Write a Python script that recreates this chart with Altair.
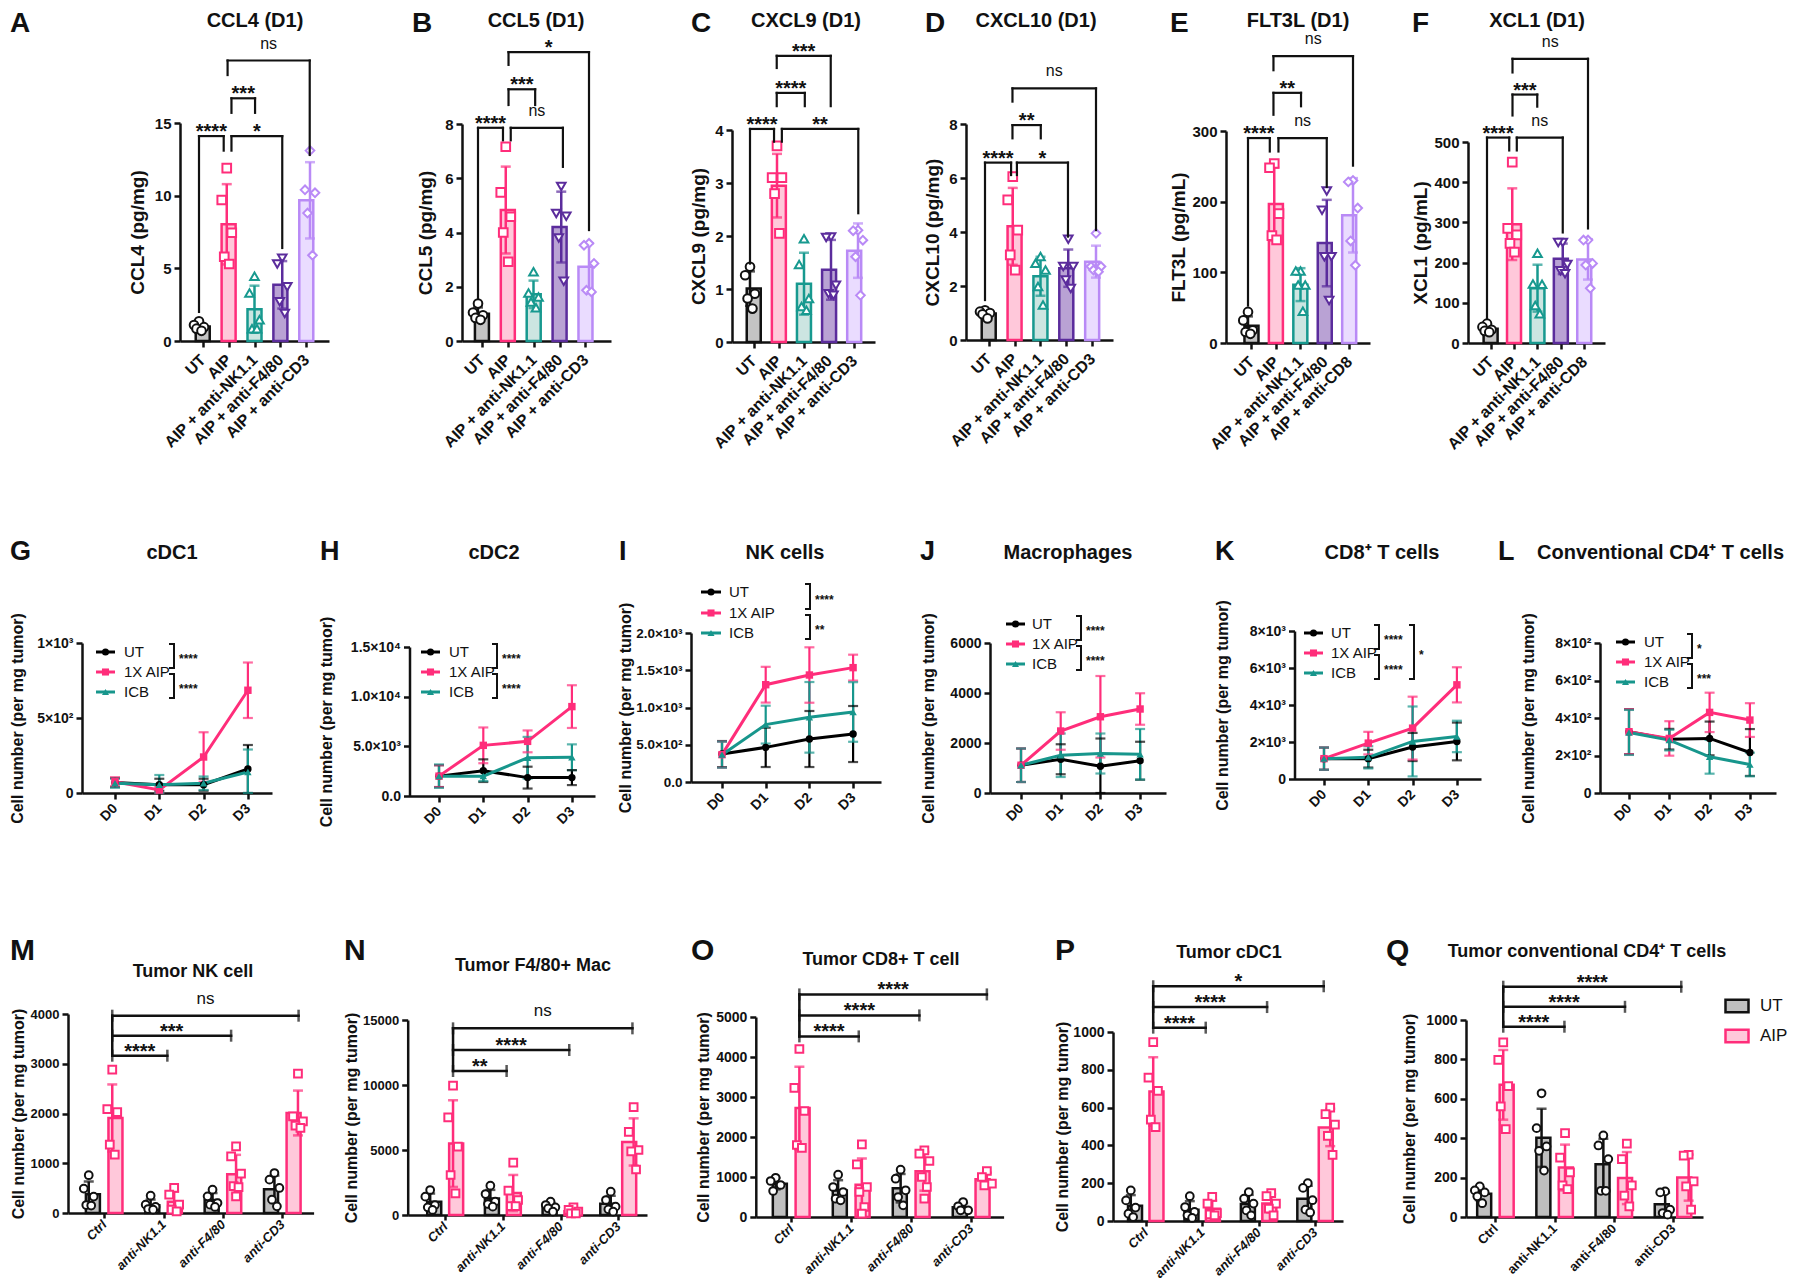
import json
import altair as alt
import pandas as pd

FONT = "Liberation Sans"
INK = "#111111"
OFF = 8
W, H = 1784, 1272

# ---------------- Panels A-F : cytokines (D1), individual mice ----------------
CYTO_GROUPS = ["UT", "AIP", "AIP + anti-NK1.1", "AIP + anti-F4/80", "AIP + anti-CD3"]
CYTO_GROUPS_CD8 = ["UT", "AIP", "AIP + anti-NK1.1", "AIP + anti-F4/80", "AIP + anti-CD8"]
CYTO_FILL = ["#c4c4c4", "#ffc8da", "#cce5e1", "#b9a2d4", "#eadcff"]
CYTO_STROKE = ["#111111", "#ff2d7a", "#17998f", "#5b2c9c", "#b98af6"]
CYTO_SHAPE = ["circle", "square", "triangle-up", "triangle-down", "diamond"]

CCL4 = [[1.35, 1.1, 0.95, 0.85, 0.7], [11.9, 9.7, 7.45, 5.8, 5.3], [4.46, 3.3, 1.47, 0.85, 0.85],
        [5.7, 5.3, 3.73, 2.7, 1.9], [13.1, 10.4, 10.2, 8.8, 5.9]]
CCL5 = [[1.38, 1.05, 0.95, 0.85, 0.78], [7.16, 5.48, 4.58, 4.0, 2.92], [2.55, 1.77, 1.62, 1.44, 1.23],
        [5.7, 4.7, 4.6, 3.8, 2.2], [3.6, 3.53, 2.86, 1.87, 1.81]]
CXCL9 = [[1.42, 1.26, 0.91, 0.82, 0.63], [3.7, 3.1, 3.1, 2.8, 2.05], [1.95, 1.46, 0.82, 0.67, 0.6],
         [1.98, 1.97, 1.07, 0.91, 0.88], [2.11, 2.1, 1.92, 1.61, 0.88]]
CXCL10 = [[1.1, 1.05, 1.0, 0.95, 0.8], [6.05, 5.19, 4.07, 3.15, 2.59], [3.09, 2.84, 2.59, 1.98, 1.3],
          [3.73, 2.72, 2.72, 2.22, 1.91], [3.95, 2.72, 2.72, 2.59, 2.53]]
FLT3L = [[44, 32, 18, 15.6, 13], [254, 248, 183, 152, 146], [102, 102, 82, 82, 45],
         [215, 188, 122, 122, 60], [230, 228, 191, 144.5, 110]]
XCL1 = [[48, 40, 33, 30, 27], [450, 285, 269, 248, 226], [223, 147, 146, 93, 73],
        [250, 250, 195, 180, 172], [256, 256, 198, 194, 136]]

# significance brackets: (left x, right x, level, left leg end, right leg end, label)
BR_CCL4 = [(0, 0.89, 14.1, 2.0, 13.1, "****"), (1.17, 3.0, 14.1, 13.1, 6.4, "*"),
           (1.17, 2.02, 16.7, 15.7, 15.7, "***"), (1.03, 3.99, 19.3, 18.3, 12.8, "ns")]
BR_CCL5 = [(0, 0.9, 7.86, 1.56, 7.4, "****"), (1.18, 3.06, 7.86, 7.4, 6.42, "ns"),
           (1.1, 2.06, 9.28, 8.7, 8.7, "***"), (1.1, 4.0, 10.65, 10.18, 4.09, "*")]
BR_CXCL9 = [(0, 0.89, 4.02, 1.48, 3.78, "****"), (1.18, 4.01, 4.02, 3.78, 2.43, "**"),
            (0.99, 2.03, 4.7, 4.45, 4.45, "****"), (0.99, 2.99, 5.4, 5.17, 4.45, "***")]
BR_CXCL10 = [(0, 0.94, 6.57, 1.48, 6.11, "****"), (1.15, 2.99, 6.57, 6.11, 3.83, "*"),
             (0.99, 2.01, 7.96, 7.47, 7.47, "**"), (0.99, 4.0, 9.32, 8.83, 4.07, "ns")]
BR_FLT3L = [(0, 0.83, 290, 53, 271, "****"), (1.16, 3.0, 290, 271, 221, "ns"),
            (0.97, 2.02, 354, 323, 335, "**"), (0.97, 4.0, 406, 386, 251, "ns")]
BR_XCL1 = [(0, 0.88, 511, 62, 479, "****"), (1.18, 3.0, 511, 479, 275, "ns"),
           (1.01, 1.99, 618, 566, 588, "***"), (1.01, 4.0, 707, 673, 285, "ns")]

# ---------------- Panels G-L : kinetics (mean, SD) ----------------
DAYS = ["D0", "D1", "D2", "D3"]
SERIES2 = ["UT", "1X AIP", "ICB"]
S2_COLOR = ["#000000", "#ff2d7a", "#17968c"]
S2_SHAPE = ["circle", "square", "triangle-up"]

CDC1_MEAN = {"UT": [70, 55, 55, 160], "1X AIP": [75, 20, 240, 685], "ICB": [65, 55, 65, 140]}
CDC1_SD = {"UT": [30, 40, 40, 160], "1X AIP": [30, 20, 165, 185], "ICB": [30, 65, 45, 150]}
CDC2_MEAN = {"UT": [2000, 2550, 1850, 1850], "1X AIP": [2000, 5100, 5500, 9000], "ICB": [2000, 2000, 3850, 3900]}
CDC2_SD = {"UT": [1100, 1140, 1100, 750], "1X AIP": [1100, 1800, 1100, 2150], "ICB": [1180, 500, 2100, 1300]}
NK_MEAN = {"UT": [375, 465, 577, 644], "1X AIP": [367, 1306, 1436, 1535], "ICB": [367, 770, 868, 940]}
NK_SD = {"UT": [175, 264, 376, 376], "1X AIP": [175, 240, 372, 174], "ICB": [175, 254, 474, 400]}
MAC_MEAN = {"UT": [1110, 1350, 1070, 1290], "1X AIP": [1110, 2480, 3050, 3360], "ICB": [1110, 1510, 1580, 1550]}
MAC_SD = {"UT": [670, 600, 1110, 760], "1X AIP": [670, 750, 1630, 630], "ICB": [670, 870, 800, 1010]}
CD8_MEAN = {"UT": [1100, 1100, 1730, 2030], "1X AIP": [1100, 1940, 2750, 5090], "ICB": [1100, 1170, 2030, 2300]}
CD8_SD = {"UT": [600, 480, 760, 1020], "1X AIP": [600, 610, 1700, 950], "ICB": [600, 600, 1890, 850]}
CD4_MEAN = {"UT": [327, 287, 291, 216], "1X AIP": [327, 291, 430, 389], "ICB": [323, 282, 193, 152]}
CD4_SD = {"UT": [120, 55, 90, 125], "1X AIP": [120, 92, 105, 90], "ICB": [120, 55, 90, 63]}

# ---------------- Panels M-Q : depletion, tumor cells (individual mice) ----------------
TUMOR_GROUPS = ["Ctrl", "anti-NK1.1", "anti-F4/80", "anti-CD3"]
SERIES3 = ["UT", "AIP"]
S3_FILL = ["#bfbfbf", "#ffc8da"]
S3_STROKE = ["#111111", "#ff2d7a"]
S3_SHAPE = ["circle", "square"]

NKT_UT = [[760, 490, 330, 160, 150], [348, 168, 121, 80, 67], [469, 335, 201, 168, 121], [804, 670, 503, 268, 134]]
NKT_AIP = [[2881, 2090, 2030, 1373, 1172], [503, 369, 168, 67, 34], [1340, 1140, 790, 540, 520, 335],
           [2800, 1943, 1843, 1756, 1709]]
MACT_UT = [[1923, 1410, 769, 590, 385], [2256, 1615, 1026, 846, 641], [1026, 769, 590, 513, 256],
           [1795, 1154, 641, 436, 256]]
MACT_AIP = [[9949, 7513, 5256, 3077, 1667], [4026, 1872, 1154, 692, 692], [590, 385, 256, 128, 128],
            [8300, 6400, 5000, 4900, 3500]]
CD8T_UT = [[980, 900, 800, 650], [1058, 750, 625, 458, 417], [1183, 958, 667, 500, 292], [375, 267, 167, 167]]
CD8T_AIP = [[4200, 3230, 2650, 1800, 1730], [1817, 1317, 750, 625, 250, 83], [1667, 1583, 1400, 1000, 750, 458],
            [1150, 1000, 833, 792]]
CDC1T_UT = [[162, 109, 71, 39, 21], [131, 74, 48, 30, 16], [153, 118, 92, 56, 30], [200, 175, 110, 60, 45]]
CDC1T_AIP = [[947, 758, 688, 536, 497], [127, 92, 42, 35, 30], [148, 131, 92, 65, 30], [600, 565, 510, 450, 350]]
CD4T_UT = [[155, 135, 125, 105, 70], [628, 451, 358, 336, 236], [414, 363, 294, 133, 133], [130, 125, 37, 20, 12]]
CD4T_AIP = [[887, 797, 664, 561, 446], [426, 302, 226, 160, 142], [372, 294, 160, 108, 54], [316, 311, 181, 155, 37]]

# brackets from Ctrl AIP: (right x, level, label)
BR_NKT = [(1.08, 3162, "****"), (2.11, 3564, "***"), (3.2, 3966, "ns")]
BR_MACT = [(1.08, 11077, "**"), (2.12, 12692, "****"), (3.17, 14358, "ns")]
BR_CD8T = [(1.14, 4515, "****"), (2.11, 5040, "****"), (3.19, 5565, "****")]
BR_CDC1T = [(1.08, 1023, "****"), (2.12, 1132, "****"), (3.08, 1242, "*")]
BR_CD4T = [(1.18, 966, "****"), (2.16, 1067, "****"), (3.07, 1169, "****")]

# ---------------- layout (reference pixels) ----------------
GEO = {
    "A": dict(ax=180, end=329, c0=199, step=27.75, zero=341, top=123, tmax=15),
    "B": dict(ax=462, end=611, c0=478, step=27.75, zero=341, top=124, tmax=8),
    "C": dict(ax=732, end=875, c0=750, step=27.0, zero=342, top=130, tmax=4),
    "D": dict(ax=966, end=1113, c0=985, step=27.75, zero=340, top=124, tmax=8),
    "E": dict(ax=1226, end=1370, c0=1248, step=26.25, zero=343, top=131, tmax=300),
    "F": dict(ax=1468, end=1605, c0=1487, step=25.25, zero=343, top=142, tmax=500),
    "G": dict(ax=82, end=272, c0=115, step=44.3, zero=793, top=643, tmax=1000),
    "H": dict(ax=409.5, end=595, c0=439, step=44.3, zero=796, top=647, tmax=15000),
    "I": dict(ax=691, end=881, c0=722, step=43.7, zero=782, top=633, tmax=2000),
    "J": dict(ax=990, end=1166, c0=1021, step=39.7, zero=793, top=643, tmax=6000),
    "K": dict(ax=1294.5, end=1481, c0=1324, step=44.3, zero=779, top=631, tmax=8000),
    "L": dict(ax=1600, end=1776, c0=1629, step=40.3, zero=793, top=643, tmax=800),
    "M": dict(ax=68, end=313.6, c0=100.5, step=61.9, zero=1213, top=1014, tmax=4000),
    "N": dict(ax=407.7, end=647, c0=441.6, step=60.2, zero=1215, top=1020, tmax=15000),
    "O": dict(ax=755.8, end=1003.6, c0=787.5, step=62.5, zero=1217, top=1017, tmax=5000),
    "P": dict(ax=1113, end=1343, c0=1142, step=59, zero=1221, top=1032, tmax=1000),
    "Q": dict(ax=1466, end=1703, c0=1491.5, step=61.8, zero=1217, top=1020, tmax=1000),
}

JIT5 = [0.0, -0.18, 0.18, -0.09, 0.09, 0.0]
JIT3 = [0.0, -0.08, 0.08, -0.04, 0.04, 0.0]
S3_OFF = 0.19


def xsc(g):
    return alt.Scale(domain=[(g["ax"] - g["c0"]) / g["step"], (g["end"] - g["c0"]) / g["step"]],
                     range=[g["ax"] - OFF, g["end"] - OFF], nice=False, zero=False)


def ysc(g):
    return alt.Scale(domain=[0, g["tmax"]], range=[g["zero"] - OFF, g["top"] - OFF], nice=False, zero=False)


def dxu(g, px):
    return (px - g["c0"]) / g["step"]


def dyu(g, py):
    return (g["zero"] - py) / (g["zero"] - g["top"]) * g["tmax"]


def lab_expr(values, labels):
    return "%s[indexof(%s, datum.value)]" % (json.dumps(labels, ensure_ascii=False), json.dumps(values))


AXC = dict(grid=False, domainColor=INK, tickColor=INK, labelColor=INK, titleColor=INK,
           labelFont=FONT, titleFont=FONT, labelOverlap=False, labelFlush=False, labelBound=False)


def y_axis(g, title, values, labels, lab_fs, title_fs, ext):
    return alt.Axis(orient="left", offset=-(g["ax"] - OFF), values=values,
                    labelExpr=lab_expr(values, labels), title=title,
                    domainWidth=2.5, tickWidth=2.5, tickSize=6, labelPadding=3,
                    labelFontSize=lab_fs, labelFontWeight="bold",
                    titleFontSize=title_fs, titleFontWeight="bold",
                    minExtent=ext, maxExtent=ext, titlePadding=4, **AXC)


def x_axis(g, values, labels, lab_fs, italic=False, pad=10, tick=6):
    return alt.Axis(orient="bottom", offset=(g["zero"] - OFF) - H, values=values,
                    labelExpr=lab_expr(values, labels), title=None,
                    domainWidth=2.5, tickWidth=2.5, tickSize=tick, labelPadding=pad,
                    labelAngle=-45, labelAlign="right", labelBaseline="middle",
                    labelFontSize=lab_fs, labelFontWeight="bold",
                    labelFontStyle="italic" if italic else "normal", **AXC)


def text_layer(rows, xs, ys, **mk):
    df = pd.DataFrame(rows, columns=["x", "y", "t"])
    return alt.Chart(df).mark_text(font=FONT, color=INK, **mk).encode(
        x=alt.X("x:Q", scale=xs, axis=None), y=alt.Y("y:Q", scale=ys, axis=None), text="t:N")


def header(g, xs, ys, title, tpos, tsize, letter, lpos, lsize, talign="center"):
    return [
        text_layer([dict(x=dxu(g, tpos[0]), y=dyu(g, tpos[1]), t=title)], xs, ys,
                   fontSize=tsize, fontWeight="bold", align=talign, baseline="middle"),
        text_layer([dict(x=dxu(g, lpos[0]), y=dyu(g, lpos[1]), t=letter)], xs, ys,
                   fontSize=lsize, fontWeight="bold", align="left", baseline="middle"),
    ]


def rule_layer(rows, xs, ys, width=2.2):
    df = pd.DataFrame(rows, columns=["x", "x2", "y", "y2"])
    return alt.Chart(df).mark_rule(color=INK, strokeWidth=width, strokeCap="square").encode(
        x=alt.X("x:Q", scale=xs, axis=None), x2="x2:Q", y=alt.Y("y:Q", scale=ys, axis=None), y2="y2:Q")


def sig_labels(rows, xs, ys, star_fs=20, ns_fs=16):
    out = []
    stars = [r for r in rows if r["t"] != "ns"]
    ns = [r for r in rows if r["t"] == "ns"]
    if stars:
        out.append(text_layer(stars, xs, ys, fontSize=star_fs, fontWeight="bold", align="center",
                              baseline="alphabetic", dy=2))
    if ns:
        out.append(text_layer(ns, xs, ys, fontSize=ns_fs, align="center", baseline="alphabetic", dy=-12))
    return out


def summarize(pts, keys):
    s = pts.groupby(keys, sort=False)["value"].agg(["mean", "std"]).reset_index()
    s["lo"] = (s["mean"] - s["std"]).clip(lower=0)
    s["hi"] = s["mean"] + s["std"]
    caps = pd.concat([s.assign(cap=s["lo"]), s.assign(cap=s["hi"])], ignore_index=True)
    return s, caps


def cyto_panel(p):
    g = GEO[p["letter"]]
    xs, ys = xsc(g), ysc(g)
    groups = p["groups"]
    rows = []
    for gi, vals in enumerate(p["values"]):
        for k, v in enumerate(vals):
            rows.append({"group": groups[gi], "xi": gi, "xj": gi + JIT5[k], "value": v})
    pts = pd.DataFrame(rows)
    summ, caps = summarize(pts, ["group", "xi"])
    fill_s = alt.Scale(domain=groups, range=CYTO_FILL)
    strk_s = alt.Scale(domain=groups, range=CYTO_STROKE)
    shp_s = alt.Scale(domain=groups, range=CYTO_SHAPE)
    yt = p["yticks"]
    bars = alt.Chart(summ).mark_bar(orient="vertical", size=14, strokeWidth=2.5).encode(
        x=alt.X("xi:Q", scale=xs, axis=x_axis(g, list(range(5)), groups, 16)),
        y=alt.Y("mean:Q", scale=ys, axis=y_axis(g, p["ytitle"], yt, [str(v) for v in yt], 15, 19, p["ext"])),
        fill=alt.Fill("group:N", scale=fill_s, legend=None),
        stroke=alt.Stroke("group:N", scale=strk_s, legend=None))
    err = alt.Chart(summ).mark_rule(strokeWidth=2.5).encode(
        x=alt.X("xi:Q", scale=xs, axis=None), y=alt.Y("lo:Q", scale=ys, axis=None), y2="hi:Q",
        color=alt.Color("group:N", scale=strk_s, legend=None))
    capl = alt.Chart(caps).mark_tick(orient="horizontal", size=10, thickness=2.5).encode(
        x=alt.X("xi:Q", scale=xs, axis=None), y=alt.Y("cap:Q", scale=ys, axis=None),
        color=alt.Color("group:N", scale=strk_s, legend=None))
    dots = alt.Chart(pts).mark_point(filled=True, fill="white", opacity=1, strokeWidth=2, size=75).encode(
        x=alt.X("xj:Q", scale=xs, axis=None), y=alt.Y("value:Q", scale=ys, axis=None),
        shape=alt.Shape("group:N", scale=shp_s, legend=None),
        stroke=alt.Stroke("group:N", scale=strk_s, legend=None))
    segs, labs = [], []
    for xa, xb, top, ya, yb, t in p["br"]:
        segs += [dict(x=xa, x2=xa, y=ya, y2=top), dict(x=xa, x2=xb, y=top, y2=top),
                 dict(x=xb, x2=xb, y=top, y2=yb)]
        labs.append(dict(x=(xa + xb) / 2, y=top, t=t))
    layers = [bars, err, capl, dots, rule_layer(segs, xs, ys)] + sig_labels(labs, xs, ys)
    layers += header(g, xs, ys, p["title"], p["tpos"], 20, p["letter"], p["lpos"], 28)
    return layers


def line_panel(p):
    g = GEO[p["letter"]]
    xs, ys = xsc(g), ysc(g)
    rows = []
    for s in SERIES2:
        for d in range(4):
            m, sd = p["mean"][s][d], p["sd"][s][d]
            rows.append({"series": s, "day": d, "mean": m, "lo": max(m - sd, 0), "hi": m + sd})
    df = pd.DataFrame(rows)
    caps = pd.concat([df.assign(cap=df["lo"]), df.assign(cap=df["hi"])], ignore_index=True)
    col_s = alt.Scale(domain=SERIES2, range=S2_COLOR)
    shp_s = alt.Scale(domain=SERIES2, range=S2_SHAPE)
    err = alt.Chart(df).mark_rule(strokeWidth=2.2).encode(
        x=alt.X("day:Q", scale=xs, axis=x_axis(g, [0, 1, 2, 3], DAYS, 14, pad=7)),
        y=alt.Y("lo:Q", scale=ys, axis=y_axis(g, "Cell number (per mg tumor)", p["yticks"], p["ylabels"],
                                             p.get("yfs", 14), 16, p["ext"])),
        y2="hi:Q", color=alt.Color("series:N", scale=col_s, legend=None))
    capl = alt.Chart(caps).mark_tick(orient="horizontal", size=10, thickness=2.2).encode(
        x=alt.X("day:Q", scale=xs, axis=None), y=alt.Y("cap:Q", scale=ys, axis=None),
        color=alt.Color("series:N", scale=col_s, legend=None))
    line = alt.Chart(df).mark_line(strokeWidth=3).encode(
        x=alt.X("day:Q", scale=xs, axis=None), y=alt.Y("mean:Q", scale=ys, axis=None),
        color=alt.Color("series:N", scale=col_s, legend=None))
    dots = alt.Chart(df).mark_point(filled=True, opacity=1, size=55).encode(
        x=alt.X("day:Q", scale=xs, axis=None), y=alt.Y("mean:Q", scale=ys, axis=None),
        color=alt.Color("series:N", scale=col_s, legend=None),
        shape=alt.Shape("series:N", scale=shp_s, legend=None))
    # in-plot key
    L = p["key"]
    key = pd.DataFrame({"series": SERIES2,
                        "x0": dxu(g, L["lx0"]), "x1": dxu(g, L["lx1"]),
                        "xm": dxu(g, (L["lx0"] + L["lx1"]) / 2), "xt": dxu(g, L["tx"]),
                        "y": [dyu(g, r) for r in L["rows"]]})
    key_line = alt.Chart(key).mark_rule(strokeWidth=3).encode(
        x=alt.X("x0:Q", scale=xs, axis=None), x2="x1:Q", y=alt.Y("y:Q", scale=ys, axis=None),
        color=alt.Color("series:N", scale=col_s, legend=None))
    key_dot = alt.Chart(key).mark_point(filled=True, opacity=1, size=50).encode(
        x=alt.X("xm:Q", scale=xs, axis=None), y=alt.Y("y:Q", scale=ys, axis=None),
        color=alt.Color("series:N", scale=col_s, legend=None),
        shape=alt.Shape("series:N", scale=shp_s, legend=None))
    key_txt = alt.Chart(key).mark_text(font=FONT, fontSize=15, color=INK, align="left", baseline="middle").encode(
        x=alt.X("xt:Q", scale=xs, axis=None), y=alt.Y("y:Q", scale=ys, axis=None), text="series:N")
    r = L["rows"]
    spans = [(r[0] - 8, r[1] - 4, L["stars"][0], L["bx"]), (r[1] + 2, r[2] + 6, L["stars"][1], L["bx"])]
    if L.get("outer"):
        spans.append((r[0] - 8, r[2] + 6, L["outer"][1], L["outer"][0]))
    segs, labs = [], []
    for a, b, t, bxp in spans:
        bx, sx = dxu(g, bxp), dxu(g, bxp - 4)
        ya, yb = dyu(g, a), dyu(g, b)
        segs += [dict(x=bx, x2=bx, y=ya, y2=yb), dict(x=sx, x2=bx, y=ya, y2=ya), dict(x=sx, x2=bx, y=yb, y2=yb)]
        labs.append(dict(x=dxu(g, bxp + 5), y=dyu(g, (a + b) / 2), t=t))
    brk = rule_layer(segs, xs, ys, width=2)
    stars = text_layer(labs, xs, ys, fontSize=12, fontWeight="bold", align="left", baseline="alphabetic", dy=7)
    layers = [err, capl, line, dots, key_line, key_dot, key_txt, brk, stars]
    layers += header(g, xs, ys, p["title"], p["tpos"], 20, p["letter"], p["lpos"], 27, p.get("talign", "center"))
    return layers


def tumor_panel(p):
    g = GEO[p["letter"]]
    xs, ys = xsc(g), ysc(g)
    rows = []
    for si, s in enumerate(SERIES3):
        for gi, vals in enumerate(p[s]):
            xc = gi + (S3_OFF if si else -S3_OFF)
            for k, v in enumerate(vals):
                rows.append({"series": s, "xi": xc, "xj": xc + JIT3[k], "value": v})
    pts = pd.DataFrame(rows)
    summ, caps = summarize(pts, ["series", "xi"])
    fill_s = alt.Scale(domain=SERIES3, range=S3_FILL)
    strk_s = alt.Scale(domain=SERIES3, range=S3_STROKE)
    shp_s = alt.Scale(domain=SERIES3, range=S3_SHAPE)
    if p.get("legend"):
        leg = alt.Legend(title=None, orient="none", legendX=1716, legendY=985,
                         symbolType="M-1,-0.55H1V0.55H-1Z", symbolSize=529, symbolStrokeWidth=2.5,
                         labelFont=FONT, labelFontSize=17, labelColor=INK, rowPadding=5,
                         labelOffset=10, padding=0, offset=0)
        lf, ls = leg, leg
    else:
        lf, ls = None, None
    yt = p["yticks"]
    bars = alt.Chart(summ).mark_bar(orient="vertical", size=14, strokeWidth=2.5).encode(
        x=alt.X("xi:Q", scale=xs, axis=x_axis(g, [0, 1, 2, 3], TUMOR_GROUPS, 13,
                                              italic=p["italic"], pad=4, tick=5)),
        y=alt.Y("mean:Q", scale=ys, axis=y_axis(g, "Cell number (per mg tumor)", yt, [str(v) for v in yt],
                                               p.get("yfs", 14), 16, p["ext"])),
        fill=alt.Fill("series:N", scale=fill_s, legend=lf),
        stroke=alt.Stroke("series:N", scale=strk_s, legend=ls))
    err = alt.Chart(summ).mark_rule(strokeWidth=2.5).encode(
        x=alt.X("xi:Q", scale=xs, axis=None), y=alt.Y("lo:Q", scale=ys, axis=None), y2="hi:Q",
        color=alt.Color("series:N", scale=strk_s, legend=None))
    capl = alt.Chart(caps).mark_tick(orient="horizontal", size=10, thickness=2.5).encode(
        x=alt.X("xi:Q", scale=xs, axis=None), y=alt.Y("cap:Q", scale=ys, axis=None),
        color=alt.Color("series:N", scale=strk_s, legend=None))
    dots = alt.Chart(pts).mark_point(filled=True, fill="white", opacity=1, strokeWidth=2, size=60).encode(
        x=alt.X("xj:Q", scale=xs, axis=None), y=alt.Y("value:Q", scale=ys, axis=None),
        shape=alt.Shape("series:N", scale=shp_s, legend=None),
        stroke=alt.Stroke("series:N", scale=strk_s, legend=None))
    levels = [lv for _, lv, _ in p["br"]]
    segs = [dict(x=S3_OFF, x2=xr, y=lv, y2=lv) for xr, lv, _ in p["br"]]
    segs.append(dict(x=S3_OFF, x2=S3_OFF, y=min(levels), y2=max(levels)))
    ends = pd.DataFrame([dict(x=S3_OFF, y=lv) for lv in levels] + [dict(x=xr, y=lv) for xr, lv, _ in p["br"]])
    endl = alt.Chart(ends).mark_tick(orient="vertical", size=12, thickness=2.5, color=INK).encode(
        x=alt.X("x:Q", scale=xs, axis=None), y=alt.Y("y:Q", scale=ys, axis=None))
    labs = [dict(x=(S3_OFF + xr) / 2, y=lv, t=t) for xr, lv, t in p["br"]]
    layers = [bars, err, capl, dots, rule_layer(segs, xs, ys, width=2.5), endl] + sig_labels(labs, xs, ys, 20, 17)
    layers += header(g, xs, ys, p["title"], p["tpos"], 18, p["letter"], p["lpos"], 30)
    return layers


R1 = [
    dict(letter="A", title="CCL4 (D1)", ytitle="CCL4 (pg/mg)", groups=CYTO_GROUPS, values=CCL4,
         yticks=[0, 5, 10, 15], br=BR_CCL4, ext=28.5, tpos=(255, 21), lpos=(10, 24)),
    dict(letter="B", title="CCL5 (D1)", ytitle="CCL5 (pg/mg)", groups=CYTO_GROUPS, values=CCL5,
         yticks=[0, 2, 4, 6, 8], br=BR_CCL5, ext=22.5, tpos=(536, 21), lpos=(412, 24)),
    dict(letter="C", title="CXCL9 (D1)", ytitle="CXCL9 (pg/mg)", groups=CYTO_GROUPS, values=CXCL9,
         yticks=[0, 1, 2, 3, 4], br=BR_CXCL9, ext=19.5, tpos=(806, 21), lpos=(691, 24)),
    dict(letter="D", title="CXCL10 (D1)", ytitle="CXCL10 (pg/mg)", groups=CYTO_GROUPS, values=CXCL10,
         yticks=[0, 2, 4, 6, 8], br=BR_CXCL10, ext=19.5, tpos=(1036, 21), lpos=(925, 24)),
    dict(letter="E", title="FLT3L (D1)", ytitle="FLT3L (pg/mL)", groups=CYTO_GROUPS_CD8, values=FLT3L,
         yticks=[0, 100, 200, 300], br=BR_FLT3L, ext=33.5, tpos=(1298, 21), lpos=(1170, 24)),
    dict(letter="F", title="XCL1 (D1)", ytitle="XCL1 (pg/mL)", groups=CYTO_GROUPS_CD8, values=XCL1,
         yticks=[0, 100, 200, 300, 400, 500], br=BR_XCL1, ext=33.5, tpos=(1537, 21), lpos=(1412, 24)),
]

R2 = [
    dict(letter="G", title="cDC1", mean=CDC1_MEAN, sd=CDC1_SD, yticks=[0, 500, 1000],
         ylabels=["0", "5×10²", "1×10³"], ext=52.2, tpos=(172, 553), lpos=(10, 552),
         key=dict(lx0=96, lx1=115, tx=124, rows=[652, 672, 692], bx=174, stars=["****", "****"])),
    dict(letter="H", title="cDC2", mean=CDC2_MEAN, sd=CDC2_SD, yticks=[0, 5000, 10000, 15000],
         ylabels=["0.0", "5.0×10³", "1.0×10⁴", "1.5×10⁴"], ext=71.2, tpos=(494, 553), lpos=(320, 552),
         key=dict(lx0=421, lx1=440, tx=449, rows=[652, 672, 692], bx=497, stars=["****", "****"])),
    dict(letter="I", title="NK cells", mean=NK_MEAN, sd=NK_SD, yticks=[0, 500, 1000, 1500, 2000],
         ylabels=["0.0", "5.0×10²", "1.0×10³", "1.5×10³", "2.0×10³"], ext=53.2, tpos=(785, 553),
         lpos=(619, 552), yfs=13.5,
         key=dict(lx0=701, lx1=721, tx=729, rows=[592, 613, 633], bx=810, stars=["****", "**"])),
    dict(letter="J", title="Macrophages", mean=MAC_MEAN, sd=MAC_SD, yticks=[0, 2000, 4000, 6000],
         ylabels=["0", "2000", "4000", "6000"], ext=49.2, tpos=(1068, 553), lpos=(920, 552),
         key=dict(lx0=1006, lx1=1025, tx=1032, rows=[624, 644, 664], bx=1081, stars=["****", "****"])),
    dict(letter="K", title="CD8⁺ T cells", mean=CD8_MEAN, sd=CD8_SD, yticks=[0, 2000, 4000, 6000, 8000],
         ylabels=["0", "2×10³", "4×10³", "6×10³", "8×10³"], ext=60.2, tpos=(1382, 553), lpos=(1215, 552),
         key=dict(lx0=1304, lx1=1323, tx=1331, rows=[633, 653, 673], bx=1379, stars=["****", "****"],
                  outer=(1414, "*"))),
    dict(letter="L", title="Conventional CD4⁺ T cells", mean=CD4_MEAN, sd=CD4_SD, yticks=[0, 200, 400, 600, 800],
         ylabels=["0", "2×10²", "4×10²", "6×10²", "8×10²"], ext=59.2, tpos=(1537, 553), lpos=(1498, 552),
         talign="left",
         key=dict(lx0=1616, lx1=1635, tx=1644, rows=[642, 662, 682], bx=1692, stars=["*", "***"])),
]

R3 = [
    dict(letter="M", title="Tumor NK cell", UT=NKT_UT, AIP=NKT_AIP, yticks=[0, 1000, 2000, 3000, 4000],
         br=BR_NKT, ext=38, tpos=(193, 972), lpos=(10, 951), italic=True, yfs=13),
    dict(letter="N", title="Tumor F4/80+ Mac", UT=MACT_UT, AIP=MACT_AIP, yticks=[0, 5000, 10000, 15000],
         br=BR_MACT, ext=44.2, tpos=(533, 966), lpos=(344, 951), italic=True, yfs=13),
    dict(letter="O", title="Tumor CD8+ T cell", UT=CD8T_UT, AIP=CD8T_AIP,
         yticks=[0, 1000, 2000, 3000, 4000, 5000], br=BR_CD8T, ext=40.2, tpos=(881, 960), lpos=(691, 951),
         italic=True),
    dict(letter="P", title="Tumor cDC1", UT=CDC1T_UT, AIP=CDC1T_AIP, yticks=[0, 200, 400, 600, 800, 1000],
         br=BR_CDC1T, ext=38.7, tpos=(1229, 953), lpos=(1055, 951), italic=True),
    dict(letter="Q", title="Tumor conventional CD4⁺ T cells", UT=CD4T_UT, AIP=CD4T_AIP,
         yticks=[0, 200, 400, 600, 800, 1000], br=BR_CD4T, ext=44.2, tpos=(1587, 952), lpos=(1386, 951),
         italic=False, legend=True),
]

layers = []
for p in R1:
    layers += cyto_panel(p)
for p in R2:
    layers += line_panel(p)
for p in R3:
    layers += tumor_panel(p)

chart = alt.layer(*layers).resolve_scale(
    x="independent", y="independent", color="independent", fill="independent",
    stroke="independent", shape="independent"
).properties(
    width=W, height=H, padding=0, background="white",
    autosize=alt.AutoSizeParams(type="none")
).configure_view(strokeWidth=0)

chart.save("out.html", embed_options={"renderer": "svg", "actions": False})
